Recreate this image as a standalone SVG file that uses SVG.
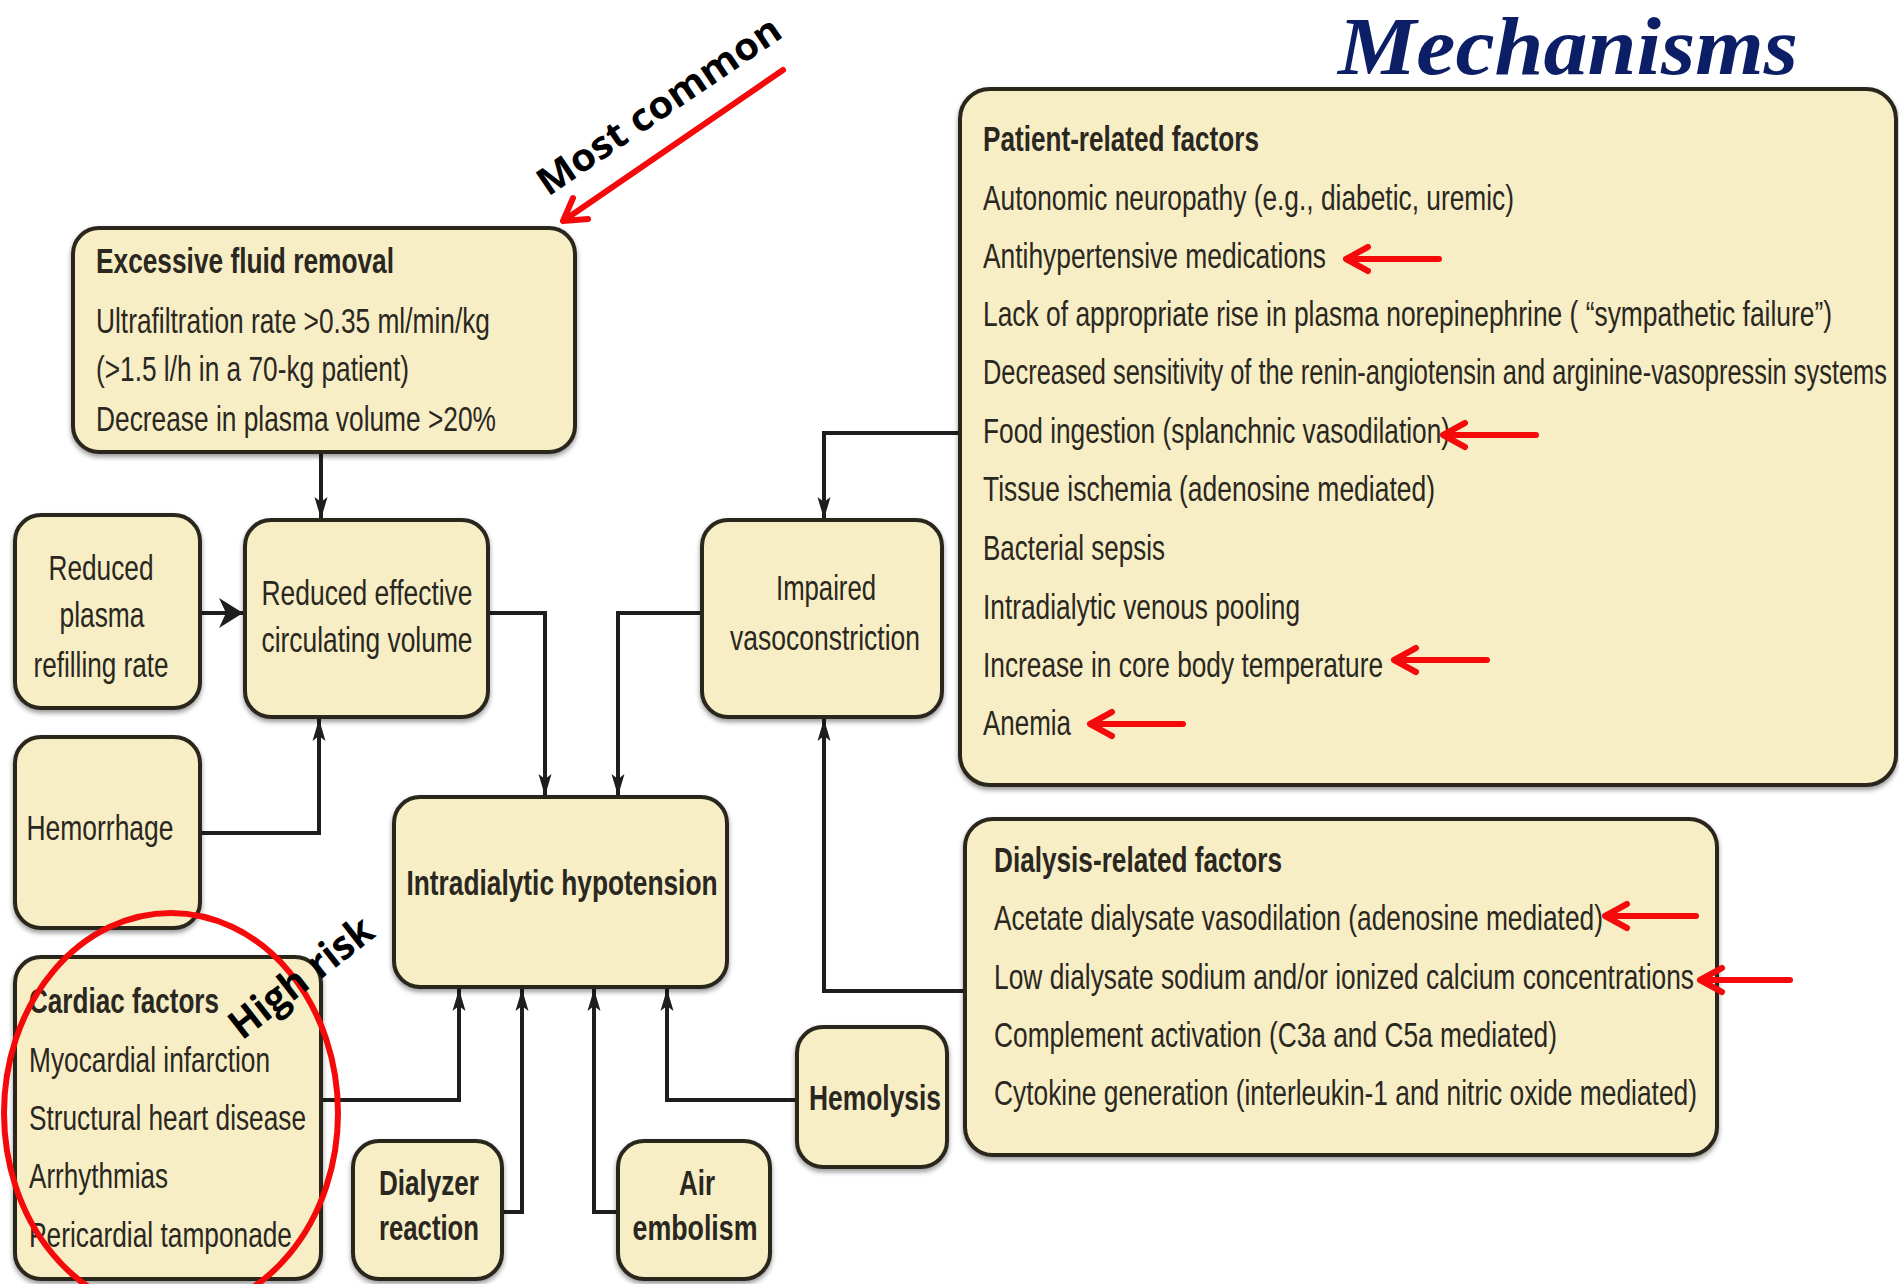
<svg xmlns="http://www.w3.org/2000/svg" width="1899" height="1284" viewBox="0 0 1899 1284">
<defs>
<filter id="sh" x="-5%" y="-5%" width="110%" height="115%">
<feDropShadow dx="0" dy="3" stdDeviation="2.5" flood-color="#000" flood-opacity="0.4"/>
</filter>
<marker id="ah" markerUnits="userSpaceOnUse" markerWidth="24" markerHeight="16" refX="22" refY="8" orient="auto">
<path d="M0,1.5 L22,8 L0,14.5 L5,8 Z" fill="#1e1e1e"/>
</marker>
<marker id="ahb" markerUnits="userSpaceOnUse" markerWidth="26" markerHeight="32" refX="24" refY="16" orient="auto">
<path d="M0,1 L24,16 L0,31 L7,16 Z" fill="#1e1e1e"/>
</marker>
</defs>
<style>
.box{fill:#f7eec6;stroke:#29271f;stroke-width:4;filter:url(#sh)}
.t{font-family:"Liberation Sans",Arial,sans-serif;font-size:26px;fill:#2a2720}
.b{font-weight:bold}
.m{text-anchor:middle}
.conn{fill:none;stroke:#1e1e1e;stroke-width:4}
.red{fill:none;stroke:#f40a0a;stroke-width:6;stroke-linecap:round;stroke-linejoin:round}
.ann{font-family:"Open Sans","Liberation Sans",sans-serif;font-weight:bold;fill:#000}
</style>
<rect width="1899" height="1284" fill="#ffffff"/>

<text x="1338" y="74" font-family="Liberation Serif, Times New Roman, serif" font-weight="bold" font-style="italic" font-size="82" fill="#0c1f66" textLength="460" lengthAdjust="spacingAndGlyphs">Mechanisms</text>

<g id="connectors">
<path class="conn" d="M321,452 V519" marker-end="url(#ah)"/>
<path class="conn" d="M200,613 H243" marker-end="url(#ahb)"/>
<path class="conn" d="M200,833 H319 V719" marker-end="url(#ah)"/>
<path class="conn" d="M488,613 H545 V796" marker-end="url(#ah)"/>
<path class="conn" d="M702,613 H618 V796" marker-end="url(#ah)"/>
<path class="conn" d="M960,433 H824 V519" marker-end="url(#ah)"/>
<path class="conn" d="M965,991 H824 V719" marker-end="url(#ah)"/>
<path class="conn" d="M321,1100 H459 V989" marker-end="url(#ah)"/>
<path class="conn" d="M502,1212 H522 V989" marker-end="url(#ah)"/>
<path class="conn" d="M618,1212 H594 V989" marker-end="url(#ah)"/>
<path class="conn" d="M797,1100 H667 V989" marker-end="url(#ah)"/>
</g>

<g id="fluid">
<rect class="box" x="73" y="228" width="502" height="224" rx="26"/>
<text class="t b" transform="translate(96,273) scale(1,1.32)" textLength="298" lengthAdjust="spacingAndGlyphs">Excessive fluid removal</text>
<text class="t" transform="translate(96,333) scale(1,1.32)" textLength="394" lengthAdjust="spacingAndGlyphs">Ultrafiltration rate &gt;0.35 ml/min/kg</text>
<text class="t" transform="translate(96,381) scale(1,1.32)" textLength="313" lengthAdjust="spacingAndGlyphs">(&gt;1.5 l/h in a 70-kg patient)</text>
<text class="t" transform="translate(96,431) scale(1,1.32)" textLength="400" lengthAdjust="spacingAndGlyphs">Decrease in plasma volume &gt;20%</text>
</g>

<g id="plasma">
<rect class="box" x="15" y="515" width="185" height="193" rx="26"/>
<text class="t m" transform="translate(101,580) scale(1,1.32)" textLength="105" lengthAdjust="spacingAndGlyphs">Reduced</text>
<text class="t m" transform="translate(102,627) scale(1,1.32)" textLength="85" lengthAdjust="spacingAndGlyphs">plasma</text>
<text class="t m" transform="translate(101,677) scale(1,1.32)" textLength="135" lengthAdjust="spacingAndGlyphs">refilling rate</text>
</g>

<g id="effective">
<rect class="box" x="245" y="520" width="243" height="197" rx="26"/>
<text class="t m" transform="translate(367,605) scale(1,1.32)" textLength="211" lengthAdjust="spacingAndGlyphs">Reduced effective</text>
<text class="t m" transform="translate(367,652) scale(1,1.32)" textLength="211" lengthAdjust="spacingAndGlyphs">circulating volume</text>
</g>

<g id="impaired">
<rect class="box" x="702" y="520" width="240" height="197" rx="26"/>
<text class="t m" transform="translate(826,600) scale(1,1.32)" textLength="100" lengthAdjust="spacingAndGlyphs">Impaired</text>
<text class="t m" transform="translate(825,650) scale(1,1.32)" textLength="190" lengthAdjust="spacingAndGlyphs">vasoconstriction</text>
</g>

<g id="hemorrhage">
<rect class="box" x="15" y="737" width="185" height="191" rx="26"/>
<text class="t m" transform="translate(100,840) scale(1,1.32)" textLength="147" lengthAdjust="spacingAndGlyphs">Hemorrhage</text>
</g>

<g id="hypotension">
<rect class="box" x="394" y="797" width="333" height="190" rx="26"/>
<text class="t b m" transform="translate(562,895) scale(1,1.32)" textLength="311" lengthAdjust="spacingAndGlyphs">Intradialytic hypotension</text>
</g>

<g id="cardiac">
<rect class="box" x="15" y="957" width="306" height="322" rx="26"/>
<text class="t b" transform="translate(29,1013) scale(1,1.32)" textLength="190" lengthAdjust="spacingAndGlyphs">Cardiac factors</text>
<text class="t" transform="translate(29,1072) scale(1,1.32)" textLength="241" lengthAdjust="spacingAndGlyphs">Myocardial infarction</text>
<text class="t" transform="translate(29,1130) scale(1,1.32)" textLength="277" lengthAdjust="spacingAndGlyphs">Structural heart disease</text>
<text class="t" transform="translate(29,1188) scale(1,1.32)" textLength="139" lengthAdjust="spacingAndGlyphs">Arrhythmias</text>
<text class="t" transform="translate(29,1247) scale(1,1.32)" textLength="263" lengthAdjust="spacingAndGlyphs">Pericardial tamponade</text>
</g>

<g id="dialyzer">
<rect class="box" x="353" y="1141" width="149" height="138" rx="26"/>
<text class="t b m" transform="translate(429,1195) scale(1,1.32)" textLength="100" lengthAdjust="spacingAndGlyphs">Dialyzer</text>
<text class="t b m" transform="translate(429,1240) scale(1,1.32)" textLength="100" lengthAdjust="spacingAndGlyphs">reaction</text>
</g>

<g id="air">
<rect class="box" x="618" y="1141" width="152" height="138" rx="26"/>
<text class="t b m" transform="translate(697,1195) scale(1,1.32)" textLength="36" lengthAdjust="spacingAndGlyphs">Air</text>
<text class="t b m" transform="translate(695,1240) scale(1,1.32)" textLength="125" lengthAdjust="spacingAndGlyphs">embolism</text>
</g>

<g id="hemolysis">
<rect class="box" x="797" y="1027" width="150" height="140" rx="26"/>
<text class="t b m" transform="translate(875,1110) scale(1,1.32)" textLength="132" lengthAdjust="spacingAndGlyphs">Hemolysis</text>
</g>

<g id="patient">
<rect class="box" x="960" y="89" width="936" height="696" rx="30"/>
<text class="t b" transform="translate(983,151) scale(1,1.32)" textLength="276" lengthAdjust="spacingAndGlyphs">Patient-related factors</text>
<text class="t" transform="translate(983,210) scale(1,1.32)" textLength="531" lengthAdjust="spacingAndGlyphs">Autonomic neuropathy (e.g., diabetic, uremic)</text>
<text class="t" transform="translate(983,268) scale(1,1.32)" textLength="343" lengthAdjust="spacingAndGlyphs">Antihypertensive medications</text>
<text class="t" transform="translate(983,326) scale(1,1.32)" textLength="849" lengthAdjust="spacingAndGlyphs">Lack of appropriate rise in plasma norepinephrine ( “sympathetic failure”)</text>
<text class="t" font-size="25" style="font-size:25px" transform="translate(983,384) scale(1,1.37)" textLength="904" lengthAdjust="spacingAndGlyphs">Decreased sensitivity of the renin-angiotensin and arginine-vasopressin systems</text>
<text class="t" transform="translate(983,443) scale(1,1.32)" textLength="467" lengthAdjust="spacingAndGlyphs">Food ingestion (splanchnic vasodilation)</text>
<text class="t" transform="translate(983,501) scale(1,1.32)" textLength="452" lengthAdjust="spacingAndGlyphs">Tissue ischemia (adenosine mediated)</text>
<text class="t" transform="translate(983,560) scale(1,1.32)" textLength="182" lengthAdjust="spacingAndGlyphs">Bacterial sepsis</text>
<text class="t" transform="translate(983,619) scale(1,1.32)" textLength="317" lengthAdjust="spacingAndGlyphs">Intradialytic venous pooling</text>
<text class="t" transform="translate(983,677) scale(1,1.32)" textLength="400" lengthAdjust="spacingAndGlyphs">Increase in core body temperature</text>
<text class="t" transform="translate(983,735) scale(1,1.32)" textLength="88" lengthAdjust="spacingAndGlyphs">Anemia</text>
</g>

<g id="dialysis">
<rect class="box" x="965" y="819" width="752" height="336" rx="28"/>
<text class="t b" transform="translate(994,872) scale(1,1.32)" textLength="288" lengthAdjust="spacingAndGlyphs">Dialysis-related factors</text>
<text class="t" transform="translate(994,930) scale(1,1.32)" textLength="609" lengthAdjust="spacingAndGlyphs">Acetate dialysate vasodilation (adenosine mediated)</text>
<text class="t" transform="translate(994,989) scale(1,1.32)" textLength="700" lengthAdjust="spacingAndGlyphs">Low dialysate sodium and/or ionized calcium concentrations</text>
<text class="t" transform="translate(994,1047) scale(1,1.32)" textLength="563" lengthAdjust="spacingAndGlyphs">Complement activation (C3a and C5a mediated)</text>
<text class="t" transform="translate(994,1105) scale(1,1.32)" textLength="703" lengthAdjust="spacingAndGlyphs">Cytokine generation (interleukin-1 and nitric oxide mediated)</text>
</g>

<g id="annotations">
<path class="red" d="M783,70 L563,221 M573,198 L563,221 L588,219"/>
<text class="ann" font-size="38" transform="translate(548,197) rotate(-34.2)" textLength="286" lengthAdjust="spacingAndGlyphs">Most common</text>
<path class="red" d="M1439,259 H1348 M1368,247 L1346,259 L1368,271"/>
<path class="red" d="M1536,435 H1445 M1465,423 L1443,435 L1465,447"/>
<path class="red" d="M1487,660 H1396 M1416,648 L1394,660 L1416,672"/>
<path class="red" d="M1183,724 H1092 M1112,712 L1090,724 L1112,736"/>
<path class="red" d="M1696,916 H1607 M1627,904 L1605,916 L1627,928"/>
<path class="red" d="M1790,980 H1702 M1722,968 L1700,980 L1722,992"/>
<ellipse cx="171" cy="1113" rx="167" ry="200" fill="none" stroke="#f40a0a" stroke-width="6"/>
<text class="ann" font-size="40" transform="translate(242,1041) rotate(-38)" textLength="171" lengthAdjust="spacingAndGlyphs">High risk</text>
</g>
</svg>
